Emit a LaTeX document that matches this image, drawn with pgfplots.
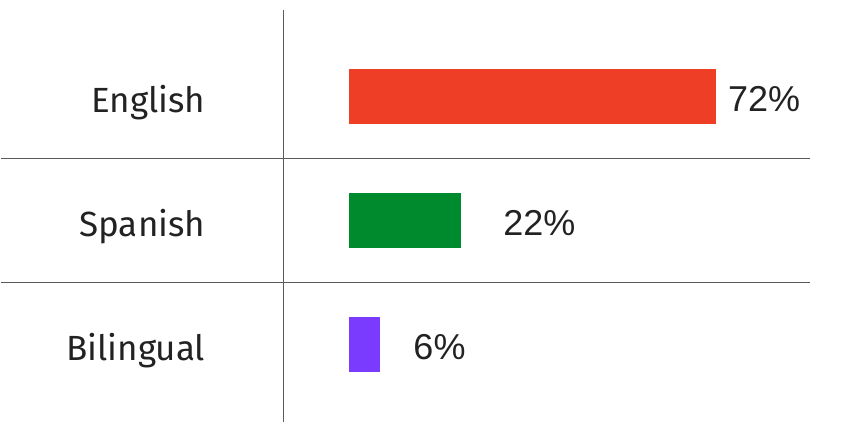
\documentclass[border=0pt]{standalone}
\usepackage{pgfplots}
\pgfplotsset{compat=1.18}
\usepackage{fontspec}
\setmainfont{Fira Sans}
\newfontfamily\lib{Liberation Sans}
\definecolor{cEng}{HTML}{EE3E26}
\definecolor{cSpa}{HTML}{008A2E}
\definecolor{cBil}{HTML}{7B3BFF}
\definecolor{lineg}{HTML}{5A5A5A}
\definecolor{txt}{HTML}{222222}
\begin{document}
\begin{tikzpicture}
\begin{axis}[
  scale only axis,
  width=846pt, height=448pt,
  xmin=-68.47, xmax=97.51,
  ymin=-0.778, ymax=2.835,
  y dir=reverse,
  hide x axis,
  axis y line*=left,
  y axis line style={draw=none},
  major tick length=0pt,
  ytick={0,1,2},
  yticklabels={English,Spanish,Bilingual},
  yticklabel style={anchor=base east, inner sep=0pt, xshift=205pt, yshift=-16.5pt, font=\fontsize{35}{40}\selectfont, text=txt},
  xbar, bar width=55pt, bar shift=0pt,
  clip=false,
]
\path (rel axis cs:0,0) rectangle (rel axis cs:1,1);
\draw[lineg, line width=1.1pt] (axis cs:-12.95,-0.6976) -- (axis cs:-12.95,2.625);
\draw[lineg, line width=1.1pt] (axis cs:-68.47,0.5) -- (axis cs:90.44,0.5);
\draw[lineg, line width=1.1pt] (axis cs:-68.47,1.5) -- (axis cs:90.44,1.5);
\addplot[fill=cEng, draw=none] coordinates {(72,0)};
\addplot[fill=cSpa, draw=none] coordinates {(22,1)};
\addplot[fill=cBil, draw=none] coordinates {(6,2)};
\node[anchor=base west, inner sep=0pt, text=txt, font=\lib\fontsize{36}{40}\selectfont, yshift=-15.5pt] at (axis cs:74.35,0) {72\%};
\node[anchor=base west, inner sep=0pt, text=txt, font=\lib\fontsize{36}{40}\selectfont, yshift=-15.5pt] at (axis cs:30.21,1) {22\%};
\node[anchor=base west, inner sep=0pt, text=txt, font=\lib\fontsize{36}{40}\selectfont, yshift=-15.5pt] at (axis cs:12.56,2) {6\%};
\end{axis}
\end{tikzpicture}
\end{document}
